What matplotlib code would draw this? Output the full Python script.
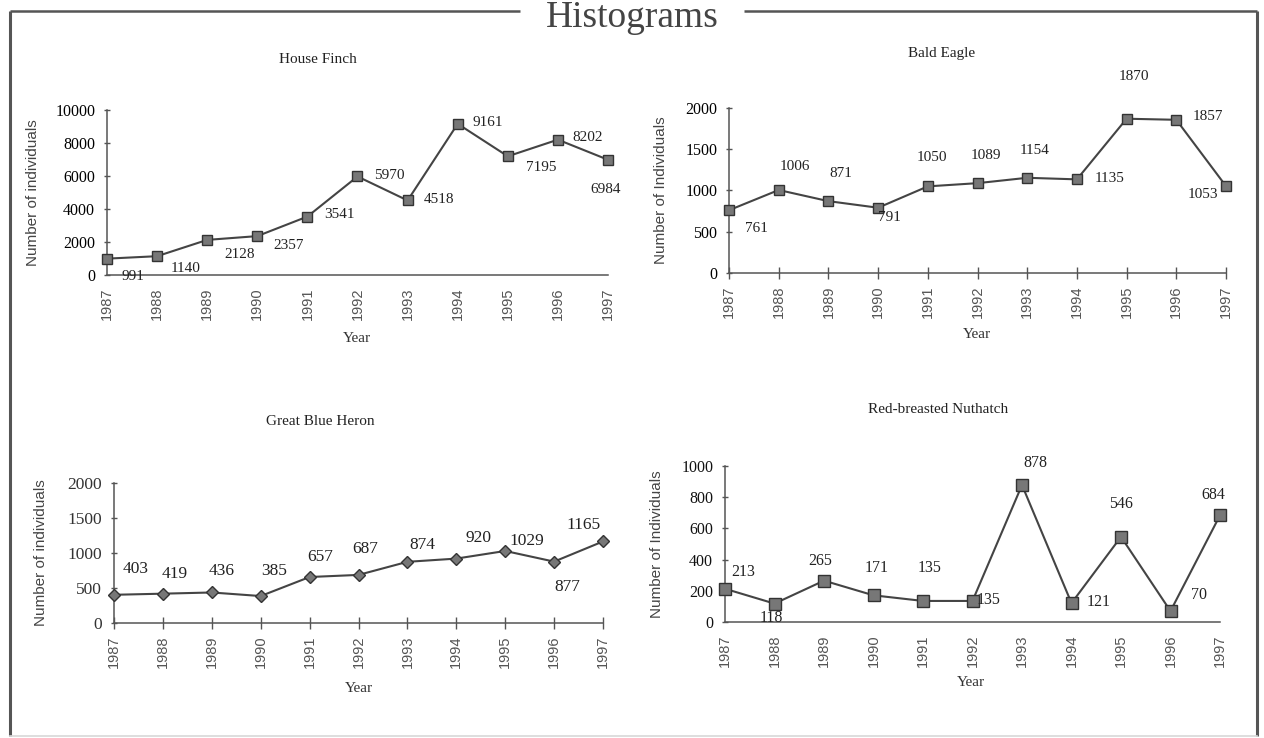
import matplotlib
matplotlib.use("Agg")
import matplotlib.pyplot as plt
from matplotlib import font_manager as fm

# ---------------- data ----------------
years = list(range(1987, 1998))
house_finch = [991, 1140, 2128, 2357, 3541, 5970, 4518, 9161, 7195, 8202, 6984]
bald_eagle = [761, 1006, 871, 791, 1050, 1089, 1154, 1135, 1870, 1857, 1053]
great_blue_heron = [403, 419, 436, 385, 657, 687, 874, 920, 1029, 877, 1165]
nuthatch = [213, 118, 265, 171, 135, 135, 878, 121, 546, 70, 684]

titles = ["House Finch", "Bald Eagle", "Great Blue Heron", "Red-breasted Nuthatch"]
ylabels = ["Number of individuals", "Number of Individuals",
           "Number of individuals", "Number of Individuals"]
yticks_list = [list(range(0, 10001, 2000)), list(range(0, 2001, 500)),
               list(range(0, 2001, 500)), list(range(0, 1001, 200))]
main_title = "Histograms"

# ---------------- styling / layout ----------------
W, H = 1264, 738
fig = plt.figure(figsize=(W / 100, H / 100), dpi=100)
fig.patch.set_facecolor("white")

avail = {f.name for f in fm.fontManager.ttflist}
SERIF = ["Liberation Serif", "DejaVu Serif"]
NARROW = ["Liberation Sans Narrow", "Liberation Sans"] if "Liberation Sans Narrow" in avail else ["Liberation Sans"]
SANS = ["Liberation Sans", "DejaVu Sans"]

# background overlay for frame and main title (pixel coords, y downward)
bg = fig.add_axes([0, 0, 1, 1], zorder=-1)
bg.set_xlim(0, W)
bg.set_ylim(H, 0)
bg.axis("off")
frame_c = "#555555"
bg.plot([10, 520], [11, 11], color=frame_c, lw=1.8, solid_capstyle="butt")
bg.plot([744, 1257], [11, 11], color=frame_c, lw=1.8, solid_capstyle="butt")
bg.plot([10, 10], [11, 736], color=frame_c, lw=2.2, solid_capstyle="butt")
bg.plot([1257, 1257], [11, 736], color=frame_c, lw=2.2, solid_capstyle="butt")
bg.plot([10, 1257], [736, 736], color="#d8d8d8", lw=1.2)
bg.text(632, 27, main_title, ha="center", va="baseline", fontsize=27,
        family=SERIF, color="#444444")

# axes boxes in pixels: left, top, right, bottom
boxes = [(107, 110, 608, 275), (729, 108, 1226, 273),
         (114, 483, 603, 623), (725, 466, 1220, 622)]
series = [house_finch, bald_eagle, great_blue_heron, nuthatch]
markers = ["s", "s", "D", "s"]
marker_sizes = [7, 7, 6, 8]
xtick_len = [0, 8, 8, 0]
label_sizes = [11, 11, 12.5, 11.5]
ytick_sizes = [11.5, 11.5, 12.5, 11.5]
ytick_colors = ["#000000", "#000000", "#333333", "#111111"]

# label offsets in pixels (image y downward)
offsets = [
    [(26, 18), (29, 12), (32, 15), (31, 9), (32, -2), (32, -1), (31, -1), (30, -1), (33, 11), (30, -2), (-2, 30)],
    [(27, 18), (16, -24), (12, -28), (11, 10), (4, -29), (8, -28), (7, -27), (33, -1), (7, -42), (32, -3), (-23, 8)],
    [(22, -26), (12, -20), (10, -21), (13, -25), (11, -20), (7, -26), (15, -17), (22, -21), (22, -10), (13, 25), (-19, -16)],
    [(18, -17), (-3, 14), (-4, -20), (3, -27), (7, -33), (16, -1), (13, -22), (27, -1), (0, -33), (29, -16), (-7, -20)],
]
# title centers, ylabel x centers, xlabel centers (pixels)
title_pos = [(318, 68), (942, 62), (320, 430), (938, 418)]
ylabel_x = [33, 661, 41, 657]
xlabel_pos = [(357, 338), (977, 335), (359, 688), (971, 682)]

line_c = "#444444"
for i, (l, t, r, b) in enumerate(boxes):
    ax = fig.add_axes([l / W, 1 - b / H, (r - l) / W, (b - t) / H])
    ax.set_facecolor("none")
    vals = series[i]
    ax.plot(years, vals, color=line_c, lw=1.5, marker=markers[i],
            markersize=marker_sizes[i], markerfacecolor="#777777",
            markeredgecolor="#333333", markeredgewidth=1.0, clip_on=False, zorder=3)
    ax.set_xlim(years[0], years[-1])
    yt = yticks_list[i]
    ax.set_ylim(yt[0], yt[-1])
    ax.set_yticks(yt)
    ax.set_xticks(years)
    ax.set_xticklabels([str(y) for y in years], rotation=90, family=NARROW,
                       fontsize=10.5, color="#555555")
    ax.set_yticklabels([str(v) for v in yt], family=SERIF, fontsize=ytick_sizes[i],
                       color=ytick_colors[i])
    for s in ["top", "right"]:
        ax.spines[s].set_visible(False)
    for s in ["left", "bottom"]:
        ax.spines[s].set_color("#555555")
        ax.spines[s].set_linewidth(1.1)
    ax.tick_params(axis="y", direction="inout", length=5, width=1, color="#555555", pad=6)
    ax.tick_params(axis="x", direction="inout", length=xtick_len[i], width=1,
                   color="#555555", pad=9 if xtick_len[i] == 0 else 5)

    pw, ph = r - l, b - t
    tx, ty = title_pos[i]
    ax.set_title(titles[i], x=(tx - l) / pw, y=(b - ty) / ph, va="center",
                 family=SERIF, fontsize=11, color="#222222")
    ax.set_ylabel(ylabels[i], family=SANS, fontsize=11, color="#444444")
    ax.yaxis.label.set_va("center")
    ax.yaxis.set_label_coords((ylabel_x[i] - l) / pw, 0.5)
    ax.set_xlabel("Year", family=SERIF, fontsize=11, color="#333333")
    ax.xaxis.label.set_va("center")
    xx, xy = xlabel_pos[i]
    ax.xaxis.set_label_coords((xx - l) / pw, (b - xy) / ph)

    for yr, v, (dx, dy) in zip(years, vals, offsets[i]):
        ax.annotate(str(v), (yr, v), xytext=(dx, -dy), textcoords="offset pixels",
                    ha="center", va="center", family=SERIF,
                    fontsize=label_sizes[i], color="#222222", annotation_clip=False)

fig.savefig("out.png", dpi=100)
